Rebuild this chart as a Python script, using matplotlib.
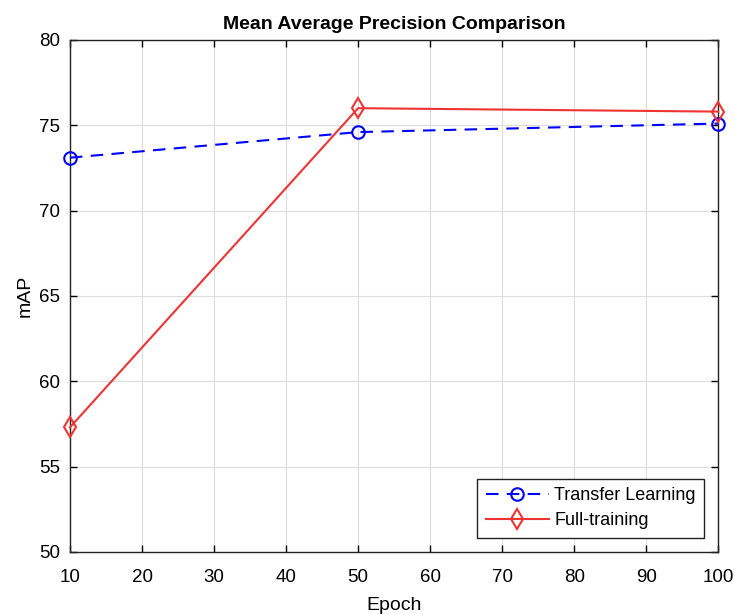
import matplotlib
matplotlib.use("Agg")
import matplotlib.pyplot as plt

plt.rcParams['font.family'] = ['Liberation Sans', 'DejaVu Sans']

# Data
epochs = [10, 50, 100]
transfer_map = [73.1, 74.6, 75.1]
full_map = [57.3, 76.0, 75.8]
xticks = list(range(10, 101, 10))
yticks = [50, 55, 60, 65, 70, 75, 80]

fig = plt.figure(figsize=(7.35, 6.14), dpi=100)
ax = fig.add_axes([0.0952, 0.101, 0.882, 0.834])

ax.plot(epochs, transfer_map, color='#0000ff', linestyle=(0, (6, 4)), linewidth=1.5,
        marker='o', markersize=9, markerfacecolor='none', markeredgewidth=1.5,
        label='Transfer Learning', clip_on=False, zorder=3)
ax.plot(epochs, full_map, color='#ee3333', linestyle='-', linewidth=1.5,
        marker='d', markersize=10, markerfacecolor='none', markeredgewidth=1.5,
        label='Full-training', clip_on=False, zorder=3)

ax.set_xlim(10, 100)
ax.set_ylim(50, 80)
ax.set_xticks(xticks)
ax.set_yticks(yticks)
ax.tick_params(direction='in', top=True, right=True, labelsize=13.5, length=5, width=1)
ax.tick_params(axis='x', pad=12)
ax.tick_params(axis='y', pad=7)
ax.grid(True, color='#dddddd', linewidth=0.8)
for s in ax.spines.values():
    s.set_linewidth(1.0)
    s.set_color('#222222')

ax.set_title('Mean Average Precision Comparison', fontsize=14, fontweight='bold', pad=8)
ax.set_xlabel('Epoch', fontsize=14, labelpad=8)
ax.set_ylabel('mAP', fontsize=14, labelpad=4)

leg = ax.legend(loc='lower right', fontsize=13, fancybox=False, framealpha=1,
                edgecolor='#222222', handlelength=3.5, borderaxespad=0.8,
                handletextpad=0.3, borderpad=0.45, labelspacing=0.45)
leg.get_frame().set_linewidth(1.0)

fig.savefig('out.png', dpi=100)
